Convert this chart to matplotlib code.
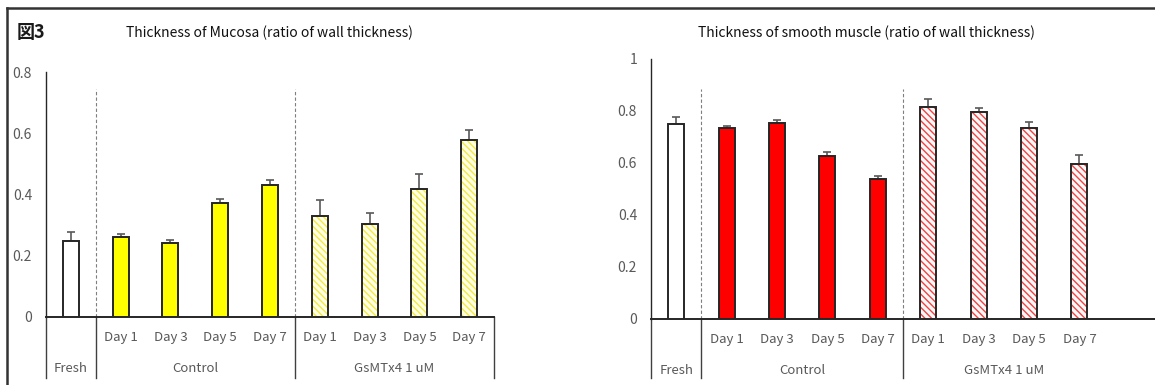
"""Figure 3: mucosa and smooth muscle thickness as ratio of wall thickness."""

import matplotlib
matplotlib.use("Agg")
import matplotlib.pyplot as plt
import numpy as np

plt.rcParams["font.family"] = ["Noto Sans CJK JP", "DejaVu Sans"]
plt.rcParams["hatch.linewidth"] = 1.0

# ---- data -------------------------------------------------------------
day_labels = ["", "Day 1", "Day 3", "Day 5", "Day 7", "Day 1", "Day 3", "Day 5", "Day 7"]
group_labels = ["Fresh", "Control", "GsMTx4 1 uM"]
group_spans = [(0, 0), (1, 4), (5, 8)]

mucosa = [0.249, 0.262, 0.243, 0.373, 0.432, 0.331, 0.305, 0.419, 0.579]
mucosa_err = [0.028, 0.008, 0.009, 0.013, 0.014, 0.050, 0.035, 0.047, 0.031]

muscle = [0.750, 0.735, 0.755, 0.627, 0.540, 0.814, 0.796, 0.735, 0.596]
muscle_err = [0.027, 0.008, 0.010, 0.015, 0.011, 0.032, 0.016, 0.022, 0.035]

GRAY = "#595959"
W, H = 1155, 385


def draw_panel(ax, values, errs, solid, hatch_bg, hatch_fg, ymax, ystep,
               dash_top, label_bottom, separators):
    """Draw one grouped bar panel with an Excel-like two-level category axis."""
    x = np.arange(len(values))
    width = 0.32
    kinds = ["fresh"] + ["control"] * 4 + ["drug"] * 4

    for xi, v, kind in zip(x, values, kinds):
        if kind == "fresh":
            ax.bar(xi, v, width, color="white", edgecolor="#262626", linewidth=1.4, zorder=3)
        elif kind == "control":
            ax.bar(xi, v, width, color=solid, edgecolor="#262626", linewidth=1.4, zorder=3)
        else:
            ax.bar(xi, v, width, color=hatch_bg, edgecolor=hatch_fg, linewidth=0,
                   hatch="\\\\\\\\\\", zorder=3)
            ax.bar(xi, v, width, color="none", edgecolor="#262626", linewidth=1.4, zorder=4)

    ax.errorbar(x, values, yerr=[np.zeros(len(errs)), errs], fmt="none",
                ecolor=GRAY, elinewidth=1.2, capsize=3, capthick=1.2, zorder=2)

    ax.set_ylim(0, ymax)
    ticks = np.arange(0, ymax + 1e-9, ystep)
    ax.set_yticks(ticks)
    ax.set_yticklabels([f"{t:g}" for t in ticks])
    ax.tick_params(axis="y", length=0, pad=10, labelsize=10, labelcolor=GRAY)
    ax.set_xticks([])
    for side in ["top", "right"]:
        ax.spines[side].set_visible(False)
    ax.spines["left"].set_color("#262626")
    ax.spines["left"].set_linewidth(1.0)
    ax.spines["bottom"].set_color("#262626")
    ax.spines["bottom"].set_linewidth(1.4)

    # dashed separators between groups
    for b in [0.5, 4.5]:
        ax.axvline(b, ymin=0, ymax=dash_top, color="#7f7f7f", linestyle=(0, (3, 2)),
                   linewidth=0.8, zorder=1)

    # two-level category axis below the plot
    tr = ax.get_xaxis_transform()
    for xi, lab in zip(x, day_labels):
        ax.annotate(lab, xy=(xi, 0), xycoords=tr, xytext=(0, -21), textcoords="offset pixels",
                    ha="center", va="center", fontsize=9.5, color=GRAY)
    for (a, b), lab in zip(group_spans, group_labels):
        ax.annotate(lab, xy=((a + b) / 2, 0), xycoords=tr, xytext=(0, -51),
                    textcoords="offset pixels", ha="center", va="center",
                    fontsize=9.5, color=GRAY)
    for b in separators:
        ax.plot([b, b], [0, label_bottom], transform=tr, color="#404040",
                linewidth=1.0, clip_on=False)


def main():
    fig = plt.figure(figsize=(W / 100, H / 100), dpi=100)

    # left panel: mucosa
    ax1 = fig.add_axes([46 / W, (H - 317) / H, 448 / W, 245 / H])
    ax1.set_xlim(-0.5, 8.5)
    draw_panel(ax1, mucosa, mucosa_err, "#FFFF00", "#FFFFE8", "#F2EA40",
               0.8, 0.2, (317 - 89) / 245, -61 / 245, [-0.5, 0.5, 4.5, 8.5])
    fig.text(269 / W, 1 - 33 / H, "Thickness of Mucosa (ratio of wall thickness)",
             ha="center", va="center", fontsize=10, color="#111111")

    # right panel: smooth muscle (axis runs past the crop)
    ax2 = fig.add_axes([651 / W, (H - 319) / H, 504 / W, 260 / H])
    ax2.set_xlim(-0.5, 9.5)
    draw_panel(ax2, muscle, muscle_err, "#FF0000", "#FFF8F8", "#EE4444",
               1.0, 0.2, (319 - 89) / 260, -59 / 260, [-0.5, 0.5, 4.5])
    fig.text(866 / W, 1 - 33 / H, "Thickness of smooth muscle (ratio of wall thickness)",
             ha="center", va="center", fontsize=10, color="#111111")

    fig.text(17 / W, 1 - 33 / H, "図3", ha="left", va="center", fontsize=13,
             fontweight="bold", color="#1a1a1a")

    # outer frame (top and left only, rest is cropped)
    fig.add_artist(plt.Line2D([7 / W, 1], [1 - 7.5 / H, 1 - 7.5 / H], color="#333333", linewidth=1.8))
    fig.add_artist(plt.Line2D([7 / W, 7 / W], [0, 1 - 7.5 / H], color="#333333", linewidth=1.8))

    fig.savefig("out.png", dpi=100)


if __name__ == "__main__":
    main()
